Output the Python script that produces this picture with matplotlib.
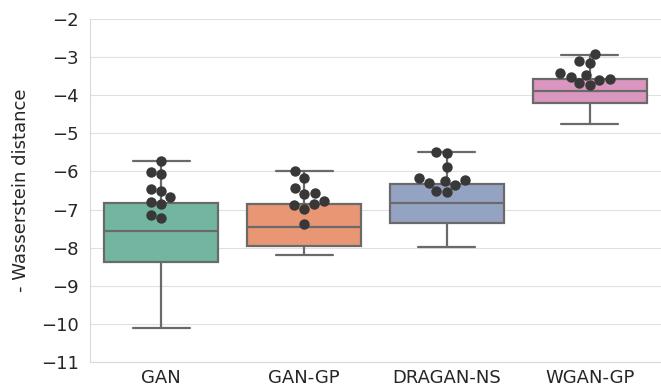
import numpy as np
import pandas as pd
import seaborn as sns
import matplotlib
matplotlib.use('Agg')
import matplotlib.pyplot as plt

# Categories
models = ['GAN', 'GAN-GP', 'DRAGAN-NS', 'WGAN-GP']

# Box statistics: whislo, q1, median, q3, whishi
whislo = [-10.12, -8.20, -7.99, -4.76]
q1 = [-8.37, -7.95, -7.34, -4.21]
med = [-7.56, -7.45, -6.82, -3.88]
q3 = [-6.82, -6.86, -6.34, -3.58]
whishi = [-5.73, -6.00, -5.48, -2.94]

# Individual runs shown as swarm points
gan_pts = [-5.72, -6.01, -6.06, -6.51, -6.45, -6.68, -6.80, -6.86, -7.14, -7.22]
gangp_pts = [-6.00, -6.16, -6.44, -6.58, -6.56, -6.89, -6.99, -6.86, -6.78, -7.38]
dragan_pts = [-5.48, -5.51, -5.88, -6.18, -6.25, -6.31, -6.36, -6.23, -6.51, -6.53]
wgan_pts = [-2.92, -3.10, -3.16, -3.43, -3.57, -3.69, -3.51, -3.73, -3.60, -3.47]

sns.set_style('whitegrid', {'grid.color': '.88', 'axes.edgecolor': '.85'})
plt.rcParams['font.family'] = ['DejaVu Sans']
plt.rcParams['text.color'] = '.15'
plt.rcParams['axes.labelcolor'] = '.15'
plt.rcParams['xtick.color'] = '.15'
plt.rcParams['ytick.color'] = '.15'

fig = plt.figure(figsize=(6.61, 3.87), dpi=100)
ax = fig.add_axes([90 / 661, 25 / 387, 571 / 661, 343 / 387])

pal = sns.color_palette('Set2', 4, desat=0.75)

stats = []
for i, name in enumerate(models):
    stats.append({'label': name, 'whislo': whislo[i], 'q1': q1[i], 'med': med[i],
                  'q3': q3[i], 'whishi': whishi[i], 'fliers': []})

line_kw = dict(color='#6a6a6a', linewidth=1.6)
bp = ax.bxp(stats, positions=range(4), widths=0.8, patch_artist=True,
            showfliers=False, boxprops=dict(edgecolor='#6a6a6a', linewidth=1.6),
            medianprops=line_kw, whiskerprops=line_kw, capprops=line_kw,
            manage_ticks=False)
for patch, c in zip(bp['boxes'], pal):
    patch.set_facecolor(c)
    patch.set_zorder(2)

df = pd.DataFrame({
    'model': (['GAN'] * len(gan_pts) + ['GAN-GP'] * len(gangp_pts)
              + ['DRAGAN-NS'] * len(dragan_pts) + ['WGAN-GP'] * len(wgan_pts)),
    'value': gan_pts + gangp_pts + dragan_pts + wgan_pts,
})
sns.swarmplot(data=df, x='model', y='value', order=models, color='.22',
              size=7.5, ax=ax, zorder=3)

ax.set_xlim(-0.5, 3.5)
ax.set_ylim(-11, -2)
ax.set_yticks(np.arange(-11, -1, 1))
ax.set_xticks(range(4))
ax.set_xticklabels(models)
ax.set_xlabel('')
ax.set_ylabel('- Wasserstein distance', fontsize=13, labelpad=8)
ax.tick_params(axis='both', labelsize=13, length=0)
ax.tick_params(axis='y', pad=8)
ax.tick_params(axis='x', pad=5)
ax.grid(axis='x', visible=False)
ax.spines['top'].set_visible(False)
ax.spines['right'].set_visible(False)
ax.set_axisbelow(True)

fig.savefig('out.png', dpi=100)
